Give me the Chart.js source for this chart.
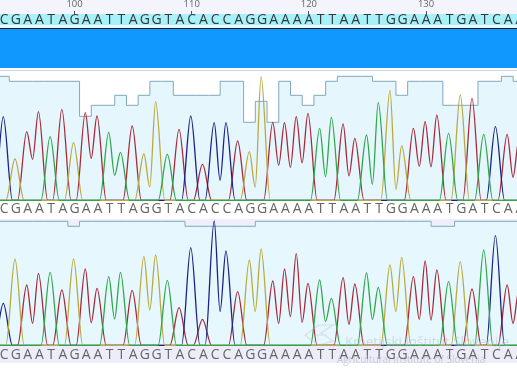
<!DOCTYPE html>
<html><head><meta charset="utf-8">
<style>
html,body{margin:0;padding:0;background:#fff;width:517px;height:383px;overflow:hidden}
#wrap{position:relative;width:517px;height:383px}
.band{position:absolute;left:0;width:517px}
canvas{position:absolute;left:0;top:0}
.wm{position:absolute;font-family:"Open Sans",sans-serif;white-space:nowrap}
svg{position:absolute;left:303px;top:323px}
</style></head><body>
<div id="wrap">
<div class="band" style="top:0;height:14px;background:#f4f4fc"></div>
<div class="band" style="top:14px;height:11px;background:#a9f1f8"></div>
<div class="band" style="top:25px;height:3px;background:#e9fafc"></div>
<div class="band" style="top:28px;height:1px;background:#0c1a30"></div>
<div class="band" style="top:29px;height:39px;background:#1098ff"></div>
<div class="band" style="top:70px;height:1px;background:#c3d6e2"></div>
<div class="band" style="top:219px;height:127px;background:#efeffb"></div>
<div class="band" style="top:346px;height:17px;background:#ededf9"></div>
<canvas id="c" width="517" height="383"></canvas>
<svg width="34" height="24" viewBox="0 0 34 24"><path d="M2 12 L16 2 L30 2 L18 10 L30 18 L16 22 L4 14 Z M10 12 L24 12" fill="none" stroke="rgba(185,185,195,.4)" stroke-width="1.2"/></svg>
<div class="wm" style="left:345px;top:332px;font-size:13.5px;color:rgba(175,175,190,.42)">Kmetijski inštitut Slovenije</div>
<div class="wm" style="left:337px;top:352px;font-size:10px;color:rgba(165,165,185,.5)">Agricultural Institute of Slovenia</div>
</div>
<script src="https://cdn.jsdelivr.net/npm/chart.js@4/dist/chart.umd.min.js"></script>
<script>
const firstBase = 94;
const bases = ["C","G","A","A","T","A","G","A","A","T","T","A","G","G","T","A","C","A","C","C","A","G","G","A","A","A","A","T","T","A","A","T","T","G","G","A","A","A","T","G","A","T","C","A","A"];
const rulerTicks = [100,110,120,130];

const topPeaks = [83.6,41.3,68.6,88.6,63.6,91,57.6,87.6,84.3,68,48,74.3,46.3,98.6,46,71,84.3,36,77.6,77.6,59.3,48.6,123.6,78,77.6,83.6,87,72,83,76.3,62,65.3,98,110,54.3,72,78.6,85.3,67,105.3,102,66,73.6,66,60];
const topValleys = [0,0,41,0,0,0,0,42,0,25,0,0,13.5,0,0,0,0,0,20,0,0,13,0,35,33,37.5,0,23.5,0,24.5,0,16,0,11,0,34,33.5,0,0,0,0,0,0,23,0];
const topQuality = [124,119,119,119,119,119,119,84,95,95,105,95,105,119,119,105,105,105,105,119,119,78,99,78,119,105,95,105,119,124,124,124,119,119,105,119,119,119,95,95,95,119,119,124,119];

const bottomPeaks = [42,86.3,60.3,72,73,55.3,86.3,76.3,57,68.7,73,55,89,90.3,65,37.7,97.7,26,124.3,94.3,53.7,85.3,96.3,64.3,76.3,91.7,62,65.3,47,67.7,61.3,72.3,58,80.3,88,68.7,84.3,75.3,63.7,83.7,56.3,95.3,109.7,60.3,55];
const bottomValleys = [0,0,22,0,0,0,0,22.7,0,26.3,0,0,35.3,0,0,0,0,0,33.7,0,0,33.7,0,22,28.7,23,0,23.7,0,21,0,26,0,33.7,0,26,25.3,0,0,0,0,0,0,22,0];
const bottomQuality = [124,124,124,124,124,124,119,124,124,124,124,124,124,124,124,124,119,119,119,119,119,119,124,124,124,124,124,124,124,124,124,124,124,124,124,124,124,119,119,124,124,124,124,124,124];

const channelColors = {A:"#a62a3a",C:"#1a2288",G:"#b8aa42",T:"#30a64a"};
const qualityLine = "#7fa9bd";
const letterFont = {family:"'Open Sans',sans-serif",size:14};

function channelPoints(ch, peaks, valleys){
  const pts = [{x:firstBase-2,y:0}];
  bases.forEach((b,i)=>{
    if(b!==ch) return;
    const p = firstBase+i-0.08;
    if(bases[i-1]!==ch) pts.push({x:p-0.78,y:0});
    pts.push({x:p,y:peaks[i]});
    if(bases[i+1]===ch) pts.push({x:p+0.5,y:valleys[i]});
    else pts.push({x:p+0.78,y:0});
  });
  pts.push({x:firstBase+bases.length+1,y:0});
  return pts;
}
function qualityPoints(q){
  const pts = q.map((v,i)=>({x:firstBase+i-0.57,y:v}));
  pts.push({x:firstBase+q.length-0.57,y:q[q.length-1]});
  return pts;
}
function traceSets(peaks,valleys,quality,axis,fillCol){
  const sets = ["T","G","C","A"].map(ch=>({
    label:axis+ch,data:channelPoints(ch,peaks,valleys),yAxisID:axis,xAxisID:"x",
    borderColor:channelColors[ch],borderWidth:1.3,pointRadius:0,fill:false,
    cubicInterpolationMode:"monotone"
  }));
  sets.push({label:axis+"Q",data:qualityPoints(quality),yAxisID:axis,xAxisID:"x",
    borderColor:qualityLine,borderWidth:1,pointRadius:0,stepped:true,
    backgroundColor:fillCol,fill:"origin"});
  return sets;
}
const xMin=93.64,xMax=137.76;
function flatten(s){s.height=0;s.paddingLeft=0;s.paddingRight=0;s.paddingTop=0;s.paddingBottom=0}
function seqAxis(pos,color,padding){
  return {type:"linear",min:xMin,max:xMax,position:pos,
    afterFit:flatten,
    afterBuildTicks:s=>{s.ticks=bases.map((b,i)=>({value:firstBase+i}))},
    grid:{display:false},border:{display:false},
    ticks:{autoSkip:false,maxRotation:0,minRotation:0,padding:padding,color:color,font:letterFont,
      callback:v=>bases[v-firstBase]||""}};
}
new Chart(document.getElementById("c"),{
  type:"line",
  data:{datasets:[
    ...traceSets(topPeaks,topValleys,topQuality,"yTop","#e6f6fd"),
    ...traceSets(bottomPeaks,bottomValleys,bottomQuality,"yBot","#e6f8fd")
  ]},
  options:{
    responsive:false,animation:false,events:[],
    layout:{padding:0},
    plugins:{legend:{display:false},tooltip:{enabled:false}},
    scales:{
      x:{type:"linear",min:xMin,max:xMax,display:false},
      yTop:{type:"linear",min:-182.7,max:200.3,display:false},
      yBot:{type:"linear",min:-37.7,max:345.3,display:false},
      yPage:{type:"linear",min:0,max:383,reverse:true,display:false},
      xRuler:{type:"linear",min:xMin,max:xMax,position:{yPage:10.5},
        afterFit:flatten,
        afterBuildTicks:s=>{s.ticks=rulerTicks.map(v=>({value:v}))},
        grid:{display:true,drawOnChartArea:false,drawTicks:true,tickLength:3,tickColor:"#555"},border:{display:false},
        ticks:{autoSkip:false,maxRotation:0,minRotation:0,padding:-15,color:"#666",
          font:{family:"'Open Sans',sans-serif",size:9.5},callback:v=>String(v)}},
      xSeqTop:seqAxis({yPage:12},"#303840",-8),
      xSeqMid:seqAxis({yTop:0},"#666",-8),
      xSeqBot:seqAxis({yBot:0},"#666",-7)
    }
  }
});
</script>
</body></html>
